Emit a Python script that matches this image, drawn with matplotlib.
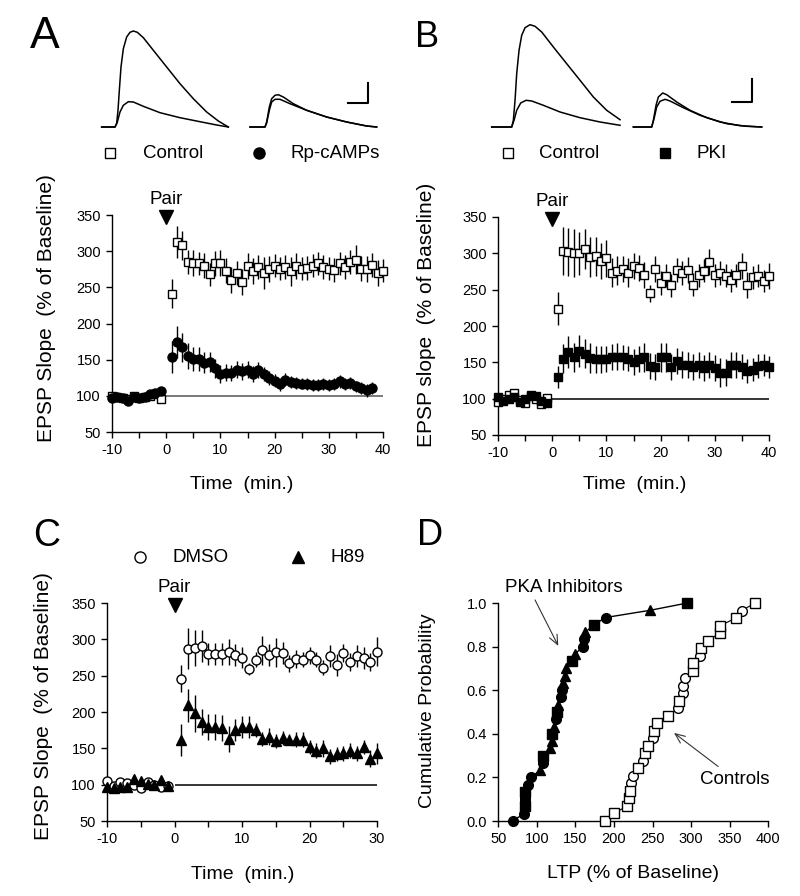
import matplotlib
matplotlib.use('Agg')
import matplotlib.pyplot as plt
import numpy as np
from matplotlib.lines import Line2D
from matplotlib.ticker import MultipleLocator, FormatStrFormatter

plt.rcParams['font.family'] = ['Liberation Sans', 'DejaVu Sans']
plt.rcParams['axes.unicode_minus'] = False

W, H = 800, 896

# ---------------- data ----------------
base_t = list(range(-10, 0))

# Panel A
a_ctrl_t = base_t + list(range(1, 41))
a_ctrl = [100, 99, 97, 96, 100, 97, 98, 100, 102, 95,
          241, 313, 308, 285, 283, 283, 280, 268, 283, 284,
          273, 260, 270, 258, 279, 272, 278, 270, 276, 280,
          276, 278, 272, 279, 276, 277, 280, 283, 278, 276,
          274, 283, 278, 285, 288, 276, 276, 281, 270, 273]
a_ctrl_err = [4] * 10 + [20, 22, 20, 17, 18, 16, 17, 16, 17, 18,
                         17, 18, 17, 18, 18, 18, 17, 22, 18, 16,
                         16, 17, 20, 18, 16, 17, 16, 16, 17, 16,
                         17, 16, 17, 17, 20, 17, 18, 17, 18, 16]
a_rp_t = base_t + list(range(1, 39))
a_rp = [97, 98, 97, 93, 98, 97, 99, 102, 104, 106,
        154, 174, 167, 155, 151, 151, 146, 147, 138, 130,
        132, 132, 136, 134, 136, 130, 136, 130, 125, 121,
        116, 122, 119, 118, 117, 116, 115, 115, 116, 115,
        116, 120, 116, 118, 113, 111, 108, 111]
a_rp_err = [4] * 10 + [22, 22, 20, 18, 17, 16, 15, 14, 13, 12,
                       12, 11, 12, 12, 12, 11, 11, 10, 10, 9,
                       9, 9, 8, 8, 8, 8, 8, 8, 8, 8,
                       8, 9, 8, 8, 8, 8, 9, 8]

# Panel B
b_t = base_t + list(range(1, 41))
b_ctrl = [95, 100, 105, 108, 98, 94, 103, 100, 93, 101,
          224, 303, 302, 301, 300, 306, 295, 296, 289, 293,
          273, 276, 279, 273, 282, 280, 270, 245, 279, 259,
          269, 256, 277, 273, 277, 257, 270, 276, 288, 270,
          273, 269, 263, 270, 283, 256, 267, 269, 262, 269]
b_ctrl_err = [4] * 10 + [23, 33, 33, 33, 30, 28, 28, 27, 25, 25,
                         20, 20, 18, 20, 18, 18, 18, 12, 18, 16,
                         16, 16, 16, 16, 18, 16, 16, 16, 18, 16,
                         16, 16, 16, 16, 18, 18, 16, 16, 15, 18]
b_pki = [102, 97, 100, 102, 95, 100, 105, 104, 97, 94,
         130, 155, 164, 157, 165, 162, 156, 154, 154, 155,
         157, 158, 157, 155, 151, 155, 157, 145, 143, 157,
         157, 143, 152, 147, 146, 144, 146, 142, 146, 142,
         136, 136, 146, 146, 144, 138, 140, 145, 146, 144]
b_pki_err = [4] * 10 + [15, 20, 22, 20, 22, 20, 20, 18, 18, 18,
                        18, 18, 17, 17, 18, 18, 20, 18, 18, 20,
                        20, 18, 18, 18, 18, 18, 18, 18, 18, 18,
                        20, 18, 18, 18, 17, 17, 16, 16, 15, 15]

# Panel C
c_t = base_t + list(range(1, 31))
c_dmso = [105, 98, 104, 102, 99, 95, 103, 99, 97, 98,
          246, 287, 288, 291, 280, 280, 280, 282, 278, 275,
          259, 272, 285, 278, 282, 281, 267, 273, 272, 278,
          272, 261, 277, 265, 281, 269, 277, 274, 269, 283]
c_dmso_err = [4] * 10 + [18, 28, 25, 22, 15, 15, 15, 18, 15, 15,
                         8, 10, 20, 15, 20, 15, 12, 12, 10, 12,
                         10, 10, 15, 15, 12, 12, 15, 15, 12, 20]
c_h89 = [97, 95, 97, 97, 108, 105, 101, 100, 107, 98,
         162, 209, 198, 186, 179, 179, 178, 163, 175, 179,
         179, 175, 163, 166, 160, 164, 162, 162, 162, 152,
         147, 150, 139, 142, 143, 147, 143, 152, 136, 143]
c_h89_err = [4] * 10 + [22, 23, 25, 18, 18, 18, 18, 18, 15, 15,
                        15, 10, 10, 12, 10, 10, 8, 10, 10, 10,
                        10, 12, 10, 10, 10, 10, 10, 10, 12, 15]

# Panel D: cumulative distributions
pka_ltp = [68.6, 83, 84, 84, 84, 89, 93, 104, 107.5, 108, 117, 119, 120, 122,
           124.5, 126, 127, 131, 133, 134, 137, 138, 145, 149.5, 160, 161, 163,
           174, 189, 247, 295]
pka_mk = ['o', 'o', 's', 'o', 's', 'o', 'o', '^', 'o', 's', '^', '^', 's', '^',
          'o', 's', '^', 'o', 'o', '^', '^', '^', 's', '^', 'o', 'o', '^',
          's', 'o', '^', 's']
ctl_ltp = [188, 200, 217, 220, 221, 221.6, 225, 231.5, 238, 240, 244.5, 250,
           252, 256, 270, 283, 284.6, 289, 289, 292, 302, 302.8, 311.5, 312.8,
           322, 337, 338, 358, 365.5, 383]
ctl_mk = ['s', 's', 's', 's', 's', 'o', 'o', 's', 'o', 's', 's', 'o', 's', 's',
          's', 'o', 's', 'o', 'o', 'o', 's', 's', 'o', 's', 's', 's', 's', 's',
          'o', 's']

# EPSP traces (t in ms from stimulus, v in mV)
trA1_big_t = [-6.67, 0, 0.83, 1.5, 2.17, 3, 4.17, 5.83, 7.5, 9.17, 11.17, 14.17,
              19.17, 25.83, 32.5, 39.17, 45.83, 51.67, 56.67]
trA1_big_v = [0, 0, 0.33, 1.67, 3.67, 6, 7.83, 9, 9.47, 9.6, 9.47, 8.93, 7.67,
              6, 4.33, 2.83, 1.5, 0.6, 0]
trA1_sm_t = [-6.67, 0, 1.17, 2.5, 4.17, 6.67, 9.17, 14.17, 22.5, 32.5, 42.5, 50.83, 56.67]
trA1_sm_v = [0, 0, 0.5, 1.5, 2.17, 2.53, 2.5, 2.07, 1.43, 0.93, 0.53, 0.2, 0]
trA2_hi_t = [-7.5, 0, 0.83, 2.17, 3.33, 5, 6.67, 9.17, 14.17, 20.83, 30.83, 40.83, 50.83, 55.83]
trA2_hi_v = [0, 0, 0.5, 2, 2.83, 3.17, 3.23, 3, 2.33, 1.67, 1, 0.5, 0.1, 0]
trA2_lo_t = [-7.5, 0, 0.83, 2.17, 3.33, 5, 7.5, 12.5, 20.83, 30.83, 40.83, 50.83, 55.83]
trA2_lo_v = [0, 0, 0.4, 1.67, 2.5, 2.77, 2.77, 2.33, 1.67, 1, 0.5, 0.1, 0]

trB1_big_t = [-10, 0, 0.83, 1.67, 2.5, 3.67, 5, 6.67, 9.17, 11.67, 15, 20.83, 27.5,
              34.17, 40.83, 47.5, 54.17]
trB1_big_v = [0, 0, 0.67, 2.67, 5.33, 7.67, 9.17, 9.93, 10.23, 10.07, 9.5, 8, 6.33,
              4.67, 3, 1.67, 0.73]
trB1_sm_t = [-10, 0, 1.17, 2.5, 4.5, 7.17, 10, 15.83, 24.17, 34.17, 44.17, 54.17]
trB1_sm_v = [0, 0, 0.67, 1.67, 2.4, 2.67, 2.6, 2.17, 1.5, 0.93, 0.5, 0.17]
trB2_hi_t = [-9.17, 0, 0.83, 2.17, 3.33, 5.5, 7.5, 12.5, 19.17, 27.5, 37.5, 47.5, 55]
trB2_hi_v = [0, 0, 0.67, 2.17, 3, 3.4, 3.23, 2.5, 1.67, 0.93, 0.33, 0.07, 0]
trB2_lo_t = [-9.17, 0, 1.17, 2.5, 4.17, 6.67, 9.17, 15.83, 24.17, 34.17, 44.17, 55]
trB2_lo_v = [0, 0, 0.83, 2, 2.57, 2.77, 2.6, 1.93, 1.17, 0.5, 0.13, 0]

# ---------------- figure ----------------
fig = plt.figure(figsize=(W / 100, H / 100), dpi=100)
fig.patch.set_facecolor('white')

FS_TICK = 10.5
FS_LAB = 14
FS_TXT = 13.5


def px_axes(l, t, r, b):
    return fig.add_axes([l / W, 1 - b / H, (r - l) / W, (b - t) / H])


def style_axes(ax):
    for s in ['top', 'right']:
        ax.spines[s].set_visible(False)
    for s in ['left', 'bottom']:
        ax.spines[s].set_linewidth(1.0)
    ax.tick_params(which='both', direction='out', length=4, width=1,
                   labelsize=FS_TICK, pad=4)


def legend_item(mx, my, marker, face, ms, text, tx):
    fig.add_artist(Line2D([mx / W], [1 - my / H], marker=marker, ms=ms,
                          mfc=face, mec='k', mew=1, ls='none'))
    fig.text(tx / W, 1 - my / H, text, ha='left', va='center', fontsize=FS_TXT)


def time_panel(ax, xmax, series, ylabel, ylab_xy, xlab_xy, base_color):
    style_axes(ax)
    ax.set_xlim(-10, xmax)
    ax.set_ylim(50, 350)
    for t, y, e, mk, face, ms in series:
        ax.errorbar(t, y, yerr=e, fmt='none', ecolor='k', elinewidth=1,
                    capsize=0, zorder=2, clip_on=False)
        ax.plot(t, y, ls='none', marker=mk, ms=ms, mfc=face, mec='k', mew=1,
                zorder=3, clip_on=False)
    ax.hlines(100, 0, xmax, color=base_color, lw=1.1, zorder=1)
    ax.plot([0], [347], marker='v', ms=10, color='k', ls='none', clip_on=False)
    ax.text(0, 371, 'Pair', ha='center', va='center', fontsize=FS_TXT)
    ax.xaxis.set_major_locator(MultipleLocator(10))
    ax.xaxis.set_minor_locator(MultipleLocator(5))
    ax.yaxis.set_major_locator(MultipleLocator(50))
    ax.set_ylabel(ylabel, fontsize=15, va='center')
    ax.yaxis.set_label_coords(*ylab_xy)
    ax.set_xlabel('Time  (min.)', fontsize=FS_LAB, va='center')
    ax.xaxis.set_label_coords(*xlab_xy)


# Panel A
axA = px_axes(112, 215, 383, 432)
time_panel(axA, 40,
           [(a_ctrl_t, a_ctrl, a_ctrl_err, 's', 'white', 6),
            (a_rp_t, a_rp, a_rp_err, 'o', 'black', 6.5)],
           'EPSP Slope  (% of Baseline)', (-0.2435, 0.571), (0.48, -0.244),
           '#555555')

# Panel B
axB = px_axes(498, 217, 769, 435)
time_panel(axB, 40,
           [(b_t, b_ctrl, b_ctrl_err, 's', 'white', 5.8),
            (b_t, b_pki, b_pki_err, 's', 'black', 5.8)],
           'EPSP slope  (% of Baseline)', (-0.262, 0.55), (0.504, -0.229),
           'black')

# Panel C
axC = px_axes(107, 603, 377, 821)
time_panel(axC, 30,
           [(c_t, c_dmso, c_dmso_err, 'o', 'white', 6.5),
            (c_t, c_h89, c_h89_err, '^', 'black', 6.5)],
           'EPSP Slope  (% of Baseline)', (-0.237, 0.525), (0.502, -0.245),
           'black')

# Panel D
axD = px_axes(498.3, 603, 768.3, 821)
style_axes(axD)
axD.set_xlim(50, 400)
axD.set_ylim(0, 1.0)
axD.xaxis.set_major_locator(MultipleLocator(50))
axD.yaxis.set_major_locator(MultipleLocator(0.2))
axD.yaxis.set_major_formatter(FormatStrFormatter('%.1f'))
pka_p = np.arange(len(pka_ltp)) / (len(pka_ltp) - 1)
ctl_p = np.arange(len(ctl_ltp)) / (len(ctl_ltp) - 1)
axD.plot(pka_ltp, pka_p, color='k', lw=1, zorder=2, clip_on=False)
axD.plot(ctl_ltp, ctl_p, color='k', lw=0.8, zorder=2, clip_on=False)
for mk in ['o', 's', '^']:
    xs = [x for x, m in zip(pka_ltp, pka_mk) if m == mk]
    ys = [p for p, m in zip(pka_p, pka_mk) if m == mk]
    axD.plot(xs, ys, ls='none', marker=mk, ms=7, mfc='k', mec='k',
             zorder=3, clip_on=False)
    xs = [x for x, m in zip(ctl_ltp, ctl_mk) if m == mk]
    ys = [p for p, m in zip(ctl_p, ctl_mk) if m == mk]
    axD.plot(xs, ys, ls='none', marker=mk, ms=7, mfc='white', mec='k',
             mew=1, zorder=3, clip_on=False)
arrow_kw = dict(arrowstyle='->,head_length=0.7,head_width=0.3', color='#333333',
                lw=0.8, shrinkA=0, shrinkB=0)
axD.annotate('', xy=(127.8, 0.803), xytext=(97.6, 1.014), arrowprops=arrow_kw,
             annotation_clip=False)
axD.text(135, 1.07, 'PKA Inhibitors', ha='center', va='center', fontsize=FS_TXT)
axD.annotate('', xy=(277.8, 0.404), xytext=(335, 0.25), arrowprops=arrow_kw,
             annotation_clip=False)
axD.text(357, 0.19, 'Controls', ha='center', va='center', fontsize=FS_TXT)
axD.set_ylabel('Cumulative Probability', fontsize=FS_LAB, va='center')
axD.yaxis.set_label_coords(-0.264, 0.505)
axD.set_xlabel('LTP (% of Baseline)', fontsize=FS_LAB, va='center')
axD.xaxis.set_label_coords(0.499, -0.239)

# Traces A
taA = px_axes(95, 10, 395, 170)
taA.set_xlim(-10, 140)
taA.set_ylim(-4.3, 11.7)
taA.axis('off')
offA = 75
taA.plot(trA1_big_t, trA1_big_v, 'k', lw=1.1)
taA.plot(trA1_sm_t, trA1_sm_v, 'k', lw=1.1)
taA.plot(np.array(trA2_hi_t) + offA, trA2_hi_v, 'k', lw=1.1)
taA.plot(np.array(trA2_lo_t) + offA, trA2_lo_v, 'k', lw=1.1)
taA.plot([116.5, 126.5, 126.5], [2.4, 2.4, 4.4], 'k', lw=1.5)

# Traces B
taB = px_axes(480, 10, 780, 170)
taB.set_xlim(-15.85, 134.15)
taB.set_ylim(-4.3, 11.7)
taB.axis('off')
offB = 70
taB.plot(trB1_big_t, trB1_big_v, 'k', lw=1.1)
taB.plot(trB1_sm_t, trB1_sm_v, 'k', lw=1.1)
taB.plot(np.array(trB2_hi_t) + offB, trB2_hi_v, 'k', lw=1.1)
taB.plot(np.array(trB2_lo_t) + offB, trB2_lo_v, 'k', lw=1.1)
taB.plot([110.15, 120.15, 120.15], [2.5, 2.5, 4.8], 'k', lw=1.5)

# Legends
legend_item(110, 153, 's', 'white', 7, 'Control', 143)
legend_item(259, 153, 'o', 'black', 8, 'Rp-cAMPs', 290)
legend_item(508, 153, 's', 'white', 7, 'Control', 539)
legend_item(665, 153, 's', 'black', 7, 'PKI', 697)
legend_item(140, 557, 'o', 'white', 8, 'DMSO', 172)
legend_item(298, 557, '^', 'black', 8, 'H89', 330)

# Panel letters
fig.text(30 / W, 1 - 48 / H, 'A', fontsize=32, ha='left', va='baseline')
fig.text(415 / W, 1 - 47 / H, 'B', fontsize=26, ha='left', va='baseline')
fig.text(33 / W, 1 - 546 / H, 'C', fontsize=27, ha='left', va='baseline')
fig.text(417 / W, 1 - 545 / H, 'D', fontsize=26, ha='left', va='baseline')

fig.savefig('out.png', dpi=100, facecolor='white')
